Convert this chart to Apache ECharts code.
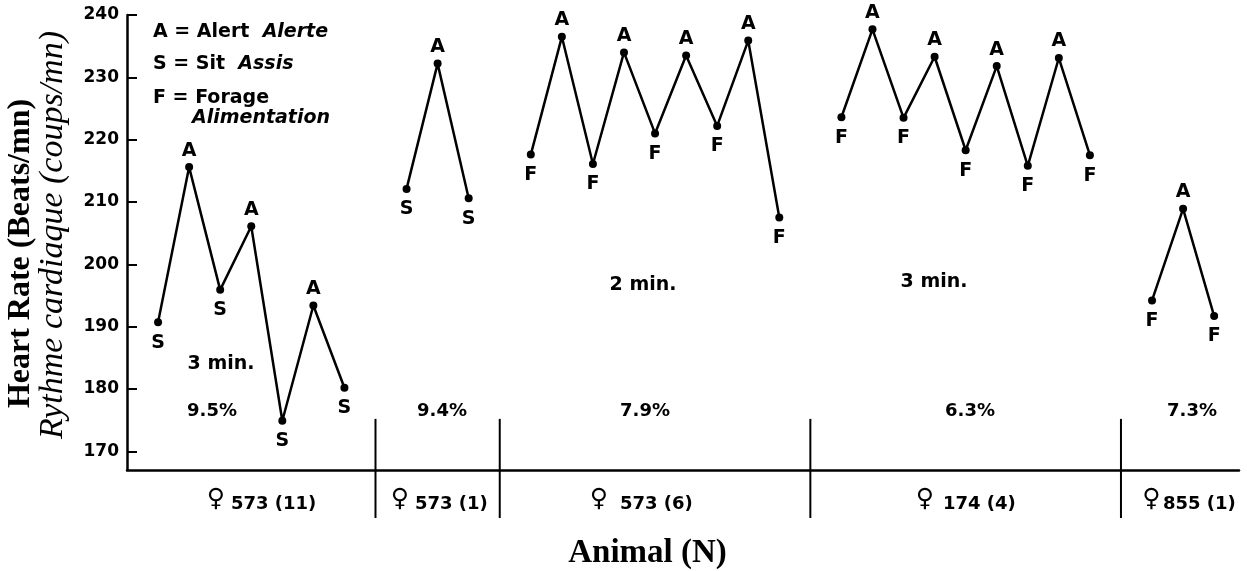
<!DOCTYPE html>
<html><head><meta charset="utf-8">
<script src="https://cdn.jsdelivr.net/npm/echarts@6/dist/echarts.min.js"></script>
<style>html,body{margin:0;padding:0;background:#fff}#c{width:1247px;height:571px}</style>
</head><body><div id="c"></div>
<script>
// ---- data ----
const groupLabels = ['573 (11)', '573 (1)', '573 (6)', '174 (4)', '855 (1)'];
const groupPercents = ['9.5%', '9.4%', '7.9%', '6.3%', '7.3%'];
const groupDurations = ['3 min.', '', '2 min.', '3 min.', ''];

const g1Values = [190.7, 215.6, 195.9, 206.1, 174.9, 193.4, 180.2];
const g1States = ['S', 'A', 'S', 'A', 'S', 'A', 'S'];
const g2Values = [212.1, 232.2, 210.6];
const g2States = ['S', 'A', 'S'];
const g3Values = [217.6, 236.5, 216.1, 234.0, 221.0, 233.5, 222.2, 235.9, 207.5];
const g3States = ['F', 'A', 'F', 'A', 'F', 'A', 'F', 'A', 'F'];
const g4Values = [223.6, 237.7, 223.5, 233.3, 218.3, 231.8, 215.8, 233.1, 217.5];
const g4States = ['F', 'A', 'F', 'A', 'F', 'A', 'F', 'A', 'F'];
const g5Values = [194.2, 208.9, 191.7];
const g5States = ['F', 'A', 'F'];

const yTicks = [170, 180, 190, 200, 210, 220, 230, 240];

const legendKey = ['A = Alert', 'S = Sit', 'F = Forage'];
const legendFr = ['Alerte', 'Assis', 'Alimentation'];

const yTitle1 = 'Heart Rate (Beats/mn)';
const yTitle2 = 'Rythme cardiaque (coups/mn)';
const xTitle = 'Animal (N)';

// ---- layout (pixels / styles) ----
const SANS = '"DejaVu Sans", sans-serif';
const SERIF = '"Liberation Serif", "Times New Roman", serif';
const groupValues = [g1Values, g2Values, g3Values, g4Values, g5Values];
const groupStates = [g1States, g2States, g3States, g4States, g5States];

const series = [];
let cursor = 0;
const separators = [];
groupValues.forEach((vals, gi) => {
  const data = vals.map((v, i) => {
    const st = groupStates[gi][i];
    const up = st === 'A';
    return {
      value: [cursor + 1 + i, v],
      label: { formatter: st, position: up ? 'top' : 'bottom', distance: up ? 3 : 7 }
    };
  });
  series.push({
    type: 'line', data, symbol: 'circle', symbolSize: 8,
    itemStyle: { color: '#000' }, lineStyle: { color: '#000', width: 2.5 },
    label: { show: true, color: '#000', fontFamily: SANS, fontWeight: 'bold', fontSize: 19 },
    animation: false, z: 3
  });
  cursor += vals.length + 1;
  if (gi < groupValues.length - 1) separators.push(cursor);
});
const sepTop = 175.2, sepBottom = 159.3;
separators.forEach(s => {
  series.push({
    type: 'line', data: [[s, sepTop], [s, sepBottom]], symbol: 'none', clip: false,
    lineStyle: { color: '#000', width: 2 }, animation: false, silent: true, z: 2
  });
});

const groupSymX = [216, 400, 599, 925, 1151.5];
const groupNumX = [231, 415, 620, 943, 1163];
const pctX = [212, 442, 645, 970, 1192];
const durPos = [[221, 364.5], null, [643, 285], [934, 282], null];
const legendY = [32.5, 64.5, 98];

const graphic = [];
groupLabels.forEach((g, i) => {
  graphic.push({ type: 'text', x: groupSymX[i], y: 499, style: { text: '♀', fill: '#000', font: '25px "DejaVu Sans", sans-serif', textAlign: 'center', textVerticalAlign: 'middle' } });
  graphic.push({ type: 'text', x: groupNumX[i], y: 504, style: { text: g, fill: '#000', font: 'bold 18px ' + SANS, textAlign: 'left', textVerticalAlign: 'middle' } });
  graphic.push({ type: 'text', x: pctX[i], y: 411, style: { text: groupPercents[i], fill: '#000', font: 'bold 18px ' + SANS, textAlign: 'center', textVerticalAlign: 'middle' } });
  if (durPos[i]) graphic.push({ type: 'text', x: durPos[i][0], y: durPos[i][1], style: { text: groupDurations[i], fill: '#000', font: 'bold 19px ' + SANS, textAlign: 'center', textVerticalAlign: 'middle' } });
});
legendKey.forEach((k, i) => {
  const last = i === legendKey.length - 1;
  graphic.push({ type: 'text', x: 153, y: legendY[i], style: {
    text: last ? '{n|' + k + '}' : '{n|' + k + '  }{i|' + legendFr[i] + '}',
    rich: { n: { fill: '#000', font: 'bold 19px ' + SANS }, i: { fill: '#000', font: 'italic bold 19px ' + SANS } },
    textAlign: 'left', textVerticalAlign: 'middle' } });
  if (last) graphic.push({ type: 'text', x: 192, y: 118.5, style: { text: legendFr[i], fill: '#000', font: 'italic bold 19px ' + SANS, textAlign: 'left', textVerticalAlign: 'middle' } });
});
graphic.push({ type: 'text', x: 21, y: 253.5, rotation: Math.PI / 2, style: { text: yTitle1, fill: '#000', font: 'bold 32px ' + SERIF, textAlign: 'center', textVerticalAlign: 'middle' } });
graphic.push({ type: 'text', x: 53, y: 235, rotation: Math.PI / 2, style: { text: yTitle2, fill: '#000', font: 'italic 34px ' + SERIF, textAlign: 'center', textVerticalAlign: 'middle' } });
graphic.push({ type: 'text', x: 647.5, y: 553.5, style: { text: xTitle, fill: '#000', font: 'bold 33px ' + SERIF, textAlign: 'center', textVerticalAlign: 'middle' } });

const chart = echarts.init(document.getElementById('c'), null, { renderer: 'canvas' });
chart.setOption({
  backgroundColor: '#fff',
  animation: false,
  grid: { left: 127, right: 8, top: 15, bottom: 101, containLabel: false },
  xAxis: {
    type: 'value', min: 0, max: 35.8,
    axisLine: { show: true, lineStyle: { color: '#000', width: 2.5 } },
    axisTick: { show: false }, axisLabel: { show: false }, splitLine: { show: false }
  },
  yAxis: {
    type: 'value', min: 167, max: 240,
    axisLine: { show: true, lineStyle: { color: '#000', width: 2.5 } },
    axisTick: { show: true, inside: true, length: 10, lineStyle: { color: '#000', width: 2 }, customValues: yTicks },
    axisLabel: { show: true, color: '#000', fontFamily: SANS, fontWeight: 'bold', fontSize: 17, margin: 8, customValues: yTicks },
    splitLine: { show: false }
  },
  series,
  graphic
});
</script></body></html>
